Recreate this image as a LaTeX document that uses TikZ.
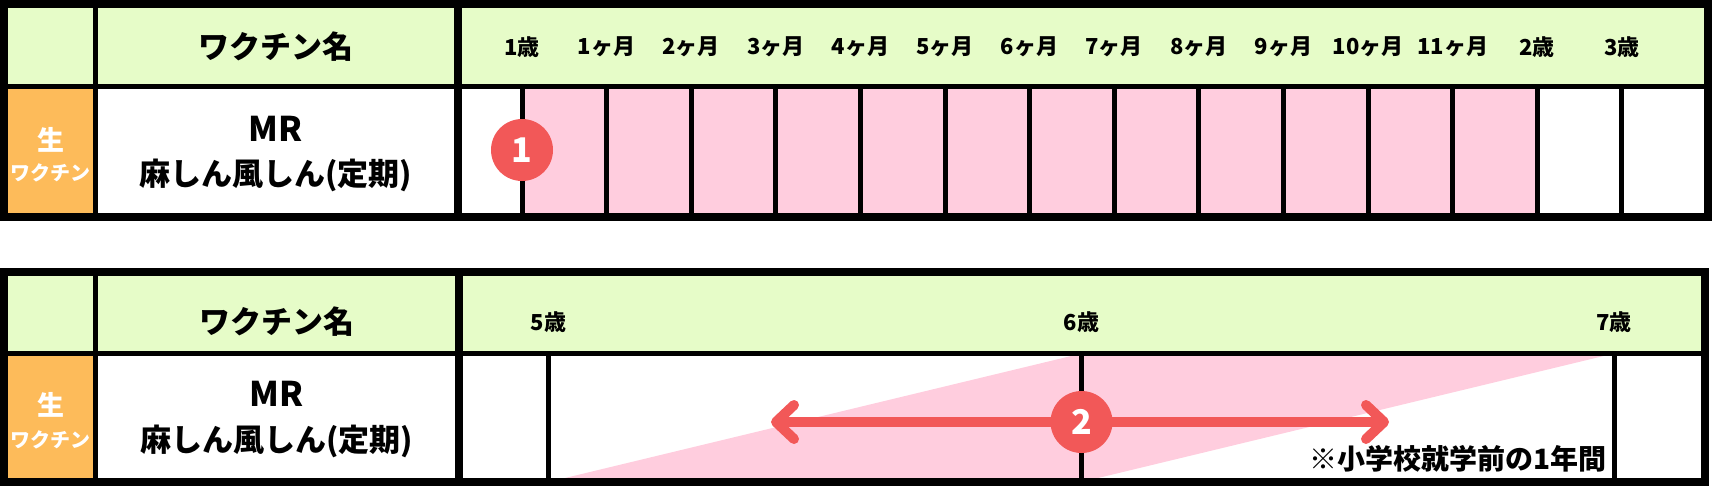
\documentclass[tikz,border=0pt]{standalone}
\usepackage{fontspec}
\setmainfont{Noto Sans CJK JP}
\usetikzlibrary{arrows.meta}
\definecolor{hdgreen}{RGB}{230,252,200}
\definecolor{liveorange}{RGB}{253,187,90}
\definecolor{periodpink}{RGB}{255,205,222}
\definecolor{markred}{RGB}{242,88,88}
\tikzset{
  agelbl/.style={inner sep=0pt, font=\bfseries\fontsize{22}{22}\selectfont},
  namelbl/.style={inner sep=0pt, font=\bfseries\fontsize{31}{31}\selectfont},
  mrlbl/.style={inner sep=0pt, font=\bfseries\fontsize{34}{34}\selectfont},
  notelbl/.style={inner sep=0pt, font=\bfseries\fontsize{28}{28}\selectfont},
  kindbig/.style={inner sep=0pt, text=white, font=\bfseries\fontsize{27}{27}\selectfont},
  kindsmall/.style={inner sep=0pt, text=white, font=\bfseries\fontsize{20}{20}\selectfont},
  dose/.style={circle, fill=markred, text=white, minimum size=62pt, inner sep=0pt,
    font=\bfseries\fontsize{34}{34}\selectfont},
  gridline/.style={line width=5pt},
  frame/.style={line width=8pt}
}
\begin{document}
\begin{tikzpicture}[x=1pt,y=-1pt]
  \useasboundingbox (0,0) rectangle (1712,487);
  % first table: 1 to 3 years
  \fill[hdgreen] (4,4) rectangle (1708,86.5);
  \fill[liveorange] (4,86.5) rectangle (95.5,217);
  \fill[periodpink] (522,86.5) rectangle (1537.2,217);
  \begin{scope}[gridline]
    \draw (4,86.5) -- (1708,86.5);
    \draw (95.5,4) -- (95.5,217);
    \draw (522,86.5) -- (522,217);
    \draw (606.6,86.5) -- (606.6,217);
    \draw (691.2,86.5) -- (691.2,217);
    \draw (775.8,86.5) -- (775.8,217);
    \draw (860.4,86.5) -- (860.4,217);
    \draw (945,86.5) -- (945,217);
    \draw (1029.6,86.5) -- (1029.6,217);
    \draw (1114.2,86.5) -- (1114.2,217);
    \draw (1198.8,86.5) -- (1198.8,217);
    \draw (1283.4,86.5) -- (1283.4,217);
    \draw (1368,86.5) -- (1368,217);
    \draw (1452.6,86.5) -- (1452.6,217);
    \draw (1537.2,86.5) -- (1537.2,217);
    \draw (1621.8,86.5) -- (1621.8,217);
  \end{scope}
  \begin{scope}[frame]
    \draw (457.5,4) -- (457.5,217);
    \draw (4,4) rectangle (1708,217);
  \end{scope}
  \draw
    (275.5,47) node[namelbl] (nameA){ワクチン名}
    (275.5,129) node[mrlbl] (mrA){MR}
    (275.5,175) node[namelbl] (mrjpA){麻しん風しん(定期)}
    (50.5,140) node[kindbig] (liveA){生}
    (50.5,173) node[kindsmall] (vacA){ワクチン}
    (522,47) node[agelbl] (y1){1歳}
    (606.6,47) node[agelbl] (m1){1ヶ月}
    (691.2,47) node[agelbl] (m2){2ヶ月}
    (775.8,47) node[agelbl] (m3){3ヶ月}
    (860.4,47) node[agelbl] (m4){4ヶ月}
    (945,47) node[agelbl] (m5){5ヶ月}
    (1029.6,47) node[agelbl] (m6){6ヶ月}
    (1114.2,47) node[agelbl] (m7){7ヶ月}
    (1198.8,47) node[agelbl] (m8){8ヶ月}
    (1283.4,47) node[agelbl] (m9){9ヶ月}
    (1368,47) node[agelbl] (m10){10ヶ月}
    (1452.6,47) node[agelbl] (m11){11ヶ月}
    (1537.2,47) node[agelbl] (y2){2歳}
    (1621.8,47) node[agelbl] (y3){3歳};
  \node[dose] (dose1) at (522,150) {1};

  % second table: 5 to 7 years
  \fill[hdgreen] (4,272) rectangle (1704.5,353.5);
  \fill[liveorange] (4,353.5) rectangle (95.5,482);
  \fill[periodpink] (548.5,482) -- (1081.5,482) -- (1614,353.5) -- (1081.5,353.5) -- cycle;
  \begin{scope}[gridline]
    \draw (4,353.5) -- (1704.5,353.5);
    \draw (95.5,272) -- (95.5,482);
    \draw (548.5,353.5) -- (548.5,482);
    \draw (1081.5,353.5) -- (1081.5,482);
    \draw (1614,353.5) -- (1614,482);
  \end{scope}
  \begin{scope}[frame]
    \draw (459,272) -- (459,482);
    \draw (4,272) rectangle (1704.5,482);
  \end{scope}
  \draw
    (276.5,322) node[namelbl] (nameB){ワクチン名}
    (276.5,394) node[mrlbl] (mrB){MR}
    (276.5,441) node[namelbl] (mrjpB){麻しん風しん(定期)}
    (50.5,405) node[kindbig] (liveB){生}
    (50.5,440) node[kindsmall] (vacB){ワクチン}
    (548.5,322) node[agelbl] (y5){5歳}
    (1081.5,322) node[agelbl] (y6){6歳}
    (1614,322) node[agelbl] (y7){7歳}
    (1607,459) node[notelbl, anchor=east] (note){※小学校就学前の1年間};
  \coordinate (spanL) at (771,422);
  \coordinate (spanR) at (1389,422);
  \draw[markred, line width=10pt, line cap=round,
    {Straight Barb[length=18pt, width=34pt, round]}-{Straight Barb[length=18pt, width=34pt, round]}]
    (spanL) -- (spanR);
  \node[dose] (dose2) at (1081.5,422) {2};
\end{tikzpicture}
\end{document}
